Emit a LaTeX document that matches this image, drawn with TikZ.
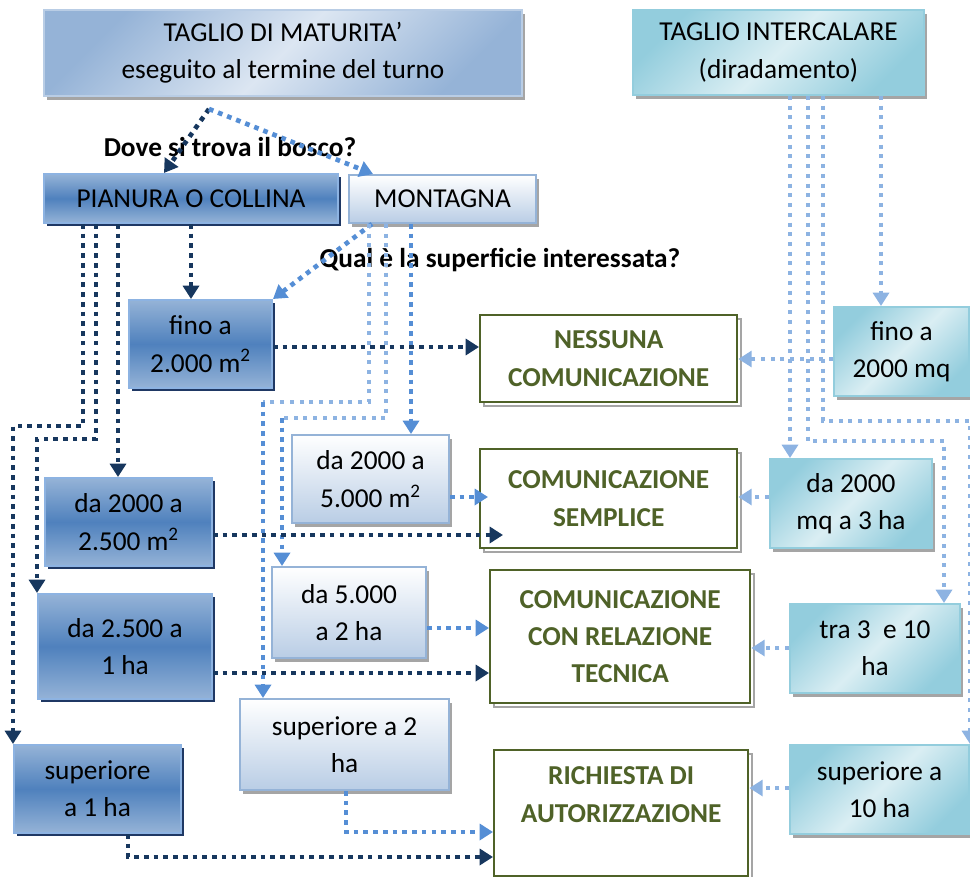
\documentclass[tikz,border=0pt]{standalone}
\usepackage{fontspec}
\setmainfont{Carlito}
\usetikzlibrary{arrows.meta,calc,shadows}

\definecolor{navyline}{HTML}{17375E}
\definecolor{midline}{HTML}{558ED5}
\definecolor{paleline}{HTML}{8DB3E2}
\definecolor{darkfill}{HTML}{4F81BD}
\definecolor{softfill}{HTML}{95B3D7}
\definecolor{icefill}{HTML}{B9CDE5}
\definecolor{mistfill}{HTML}{DCE6F2}
\definecolor{tealfill}{HTML}{93CDDD}
\definecolor{foamfill}{HTML}{DAEEF3}
\definecolor{oliveink}{HTML}{4F6228}
\definecolor{navyshade}{HTML}{1F3864}
\definecolor{hatch}{HTML}{A5A5A5}

\begin{document}
\begin{tikzpicture}[x=0.75pt, y=-0.75pt,
    every node/.style={font=\fontsize{20.5}{28}\selectfont, align=center, inner sep=0pt},
    boxsize/.style 2 args={anchor=north west, minimum width=#1*0.75pt, minimum height=#2*0.75pt},
    greyshadow/.style={general shadow={fill=hatch, shadow xshift=2.5pt, shadow yshift=-3pt}},
    darkbox/.style={draw=paleline, line width=1.5pt, top color=softfill, bottom color=softfill, middle color=darkfill,
        general shadow={fill=navyshade, shadow xshift=2.5pt, shadow yshift=-2.5pt}},
    lightbox/.style={draw=softfill, line width=1.5pt, top color=white, bottom color=icefill, greyshadow},
    topbox/.style={draw=icefill, line width=1.5pt, top color=softfill, bottom color=softfill, middle color=mistfill, shading angle=45, greyshadow},
    tealbox/.style={draw=tealfill, line width=1.5pt, top color=tealfill, bottom color=tealfill, middle color=foamfill, shading angle=45, greyshadow},
    resultbox/.style={draw=oliveink, line width=1.8pt, fill=white, text=oliveink, font=\fontsize{20.5}{28}\selectfont\bfseries,
        general shadow={draw=hatch, line width=1.5pt, shadow xshift=2.5pt, shadow yshift=-3pt}},
    question/.style={font=\fontsize{20.5}{28}\selectfont\bfseries},
    dotline/.style={line width=3.5pt, dash pattern=on 3.5pt off 3.8pt},
    thindots/.style={line width=2.8pt, dash pattern=on 3pt off 4.3pt},
    tip/.style={-{Triangle[length=10pt,width=12pt]}},
    darkarrow/.style={dotline, tip, navyline},
    midarrow/.style={dotline, tip, midline},
    palearrow/.style={thindots, tip, paleline},
    paledots/.style={thindots, paleline}]

    \useasboundingbox (0,0) rectangle (970,877);

    \node[question] (dove) at (230,147) {Dove si trova il bosco?};
    \node[question] (qual) at (500,260) {Qual è la superficie interessata?};

    \node[topbox, boxsize={478}{86}] (mat) at (43,9) {TAGLIO DI MATURITA’\\eseguito al termine del turno};
    \node[tealbox, boxsize={291}{85}] (inter) at (632,9) {TAGLIO INTERCALARE\\(diradamento)};
    \node[darkbox, boxsize={294}{49}] (pian) at (43,173) {PIANURA O COLLINA};
    \node[lightbox, boxsize={187}{48}] (mont) at (348,174) {MONTAGNA};

    \node[darkbox, boxsize={143}{88}] (fino1) at (128,299) {fino a\\2.000 m\textsuperscript{2}};
    \node[darkbox, boxsize={167}{88}] (da2500) at (44,477) {da 2000 a\\2.500 m\textsuperscript{2}};
    \node[darkbox, boxsize={174}{105}] (da1ha) at (37,593) {da 2.500 a\\1 ha};
    \node[darkbox, boxsize={167}{88}] (sup1) at (13,744) {superiore\\a 1 ha};

    \node[lightbox, boxsize={157}{88}] (da5000) at (291,434) {da 2000 a\\5.000 m\textsuperscript{2}};
    \node[lightbox, boxsize={154}{91}] (da2ha) at (271,566) {da 5.000\\a 2 ha};
    \node[lightbox, boxsize={209}{91}] (sup2) at (239,698) {superiore a 2\\ha};

    \node[resultbox, boxsize={257}{87}] (ness) at (479,314) {NESSUNA\\COMUNICAZIONE};
    \node[resultbox, boxsize={257}{99}] (sempl) at (479,448) {COMUNICAZIONE\\SEMPLICE};
    \node[resultbox, boxsize={260}{133}] (relaz) at (489,569) {COMUNICAZIONE\\CON RELAZIONE\\TECNICA};
    \node[resultbox, boxsize={254}{126}] (richiesta) at (493,749) {RICHIESTA DI\\AUTORIZZAZIONE\\\mbox{}};

    \node[tealbox, boxsize={135}{89}] (fino2) at (833,306) {fino a\\2000 mq};
    \node[tealbox, boxsize={162}{89}] (da3ha) at (769,458) {da 2000\\mq a 3 ha};
    \node[tealbox, boxsize={170}{89}] (tra10) at (789,603) {tra 3\ \ e 10\\ha};
    \node[tealbox, boxsize={179}{89}] (sup10) at (789,744) {superiore a\\10 ha};

    \coordinate (split) at ($(mat.south west)+(166,12)$);
    \coordinate (bendA) at ($(da2ha.north west)+(11,-148)$);
    \coordinate (bendB) at ($(sup2.north west)+(24,-296)$);

    \draw[darkarrow] (split) -- ($(pian.north west)+(121,0)$);
    \draw[midarrow] (split) -- ($(mont.north west)+(25,0)$);

    \draw[darkarrow] ($(pian.south west)+(148,0)$) -- ($(fino1.north west)+(63,0)$);
    \draw[darkarrow] ($(pian.south west)+(75,0)$) -- ($(da2500.north west)+(74,0)$);
    \draw[darkarrow] ($(pian.south west)+(53,0)$) -- ++(0,215) -| (da1ha.north west);
    \draw[darkarrow] ($(pian.south west)+(40,0)$) -- ++(0,202) -| (sup1.north west);

    \draw[midarrow] ($(mont.south west)+(24,0)$) -- (fino1.north east);
    \draw[midarrow] ($(mont.south west)+(63,0)$) -- ($(da5000.north west)+(120,0)$);
    \draw[paledots] ($(mont.south west)+(38,0)$) |- (bendA);
    \draw[paledots] ($(mont.south west)+(21,0)$) |- (bendB);
    \draw[midarrow] (bendA) -- ($(da2ha.north west)+(11,0)$);
    \draw[midarrow] (bendB) -- ($(sup2.north west)+(24,0)$);

    \draw[darkarrow] ($(fino1.north east)+(0,48)$) -- ($(ness.north west)+(0,33)$);
    \draw[darkarrow] ($(da2500.north east)+(0,58)$) -- ($(sempl.north west)+(24,87)$);
    \draw[darkarrow] ($(da1ha.north east)+(0,80)$) -- ($(relaz.north west)+(0,104)$);
    \draw[darkarrow] ($(sup1.south west)+(115,0)$) |- ($(richiesta.north west)+(0,108)$);

    \draw[midarrow] ($(da5000.north east)+(0,63)$) -- ($(sempl.north west)+(9,49)$);
    \draw[midarrow] ($(da2ha.north east)+(0,62)$) -- ($(relaz.north west)+(0,59)$);
    \draw[midarrow] ($(sup2.south west)+(107,0)$) |- ($(richiesta.north west)+(0,83)$);

    \draw[palearrow] ($(inter.south west)+(249,0)$) -- ($(fino2.north west)+(48,0)$);
    \draw[palearrow] ($(inter.south west)+(158,0)$) -- ($(da3ha.north west)+(21,0)$);
    \draw[palearrow] ($(inter.south west)+(176,0)$) -- ++(0,345) -| ($(tra10.north west)+(155,0)$);
    \draw[palearrow] ($(inter.south west)+(191,0)$) -- ++(0,325) -| (sup10.north east);

    \draw[palearrow] ($(fino2.north west)+(0,53)$) -- ($(ness.north east)+(0,45)$);
    \draw[palearrow] ($(da3ha.north west)+(0,39)$) -- ($(sempl.north east)+(0,49)$);
    \draw[palearrow] ($(tra10.north west)+(0,45)$) -- ($(relaz.north east)+(0,79)$);
    \draw[palearrow] ($(sup10.north west)+(0,44)$) -- ($(richiesta.north east)+(0,39)$);

\end{tikzpicture}
\end{document}
